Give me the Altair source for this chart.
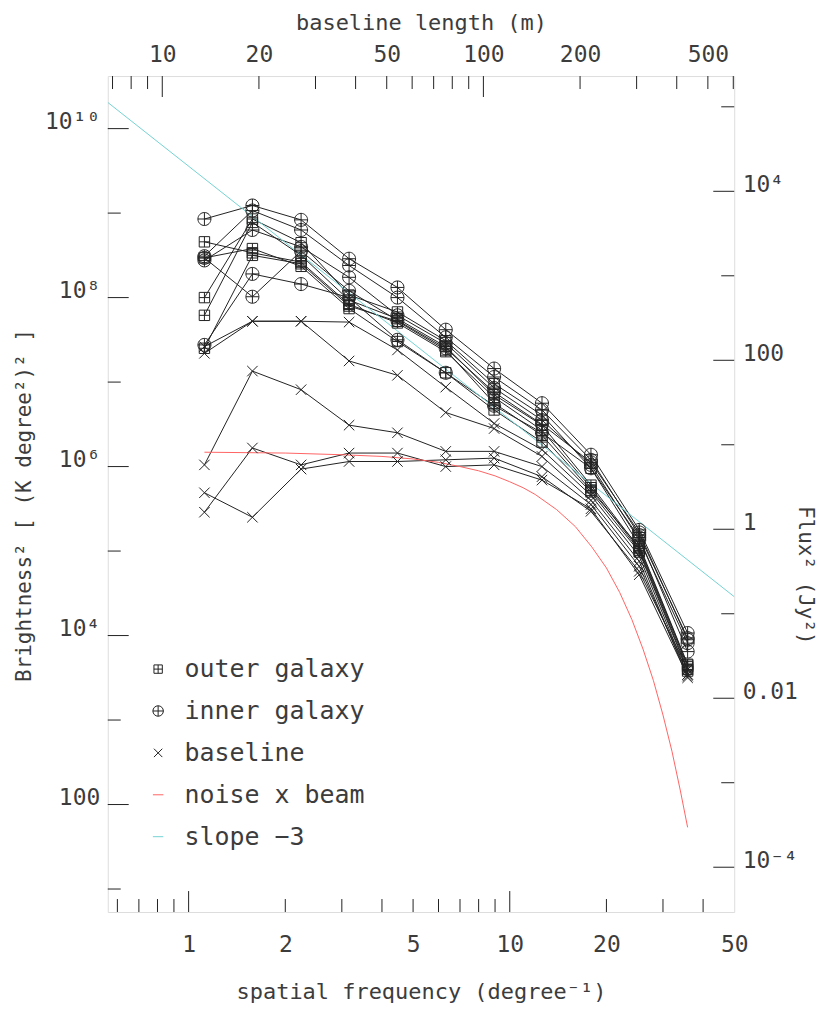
import altair as alt
import pandas as pd

FONT = "DejaVu Sans Mono"
INK = "#222222"
TXT = "#3c3c3c"
W, H = 628, 838

# spatial frequency of the measured points (degree^-1)
freq = [1.12, 1.58, 2.24, 3.16, 4.47, 6.32, 8.94, 12.6, 17.9, 25.3, 35.8]

# log10 of Brightness^2
inner_1 = [8.93, 9.09, 8.92, 8.46, 8.12, 7.62, 7.16, 6.75, 6.14, 5.25, 4.03]
inner_2 = [8.49, 9.03, 8.80, 8.38, 8.00, 7.53, 7.06, 6.67, 6.08, 5.19, 3.97]
inner_3 = [8.44, 8.80, 8.60, 8.24, 7.79, 7.46, 6.93, 6.55, 6.02, 5.13, 3.91]
inner_4 = [7.44, 8.28, 8.16, 8.00, 7.50, 7.11, 6.72, 6.40, 5.98, 5.16, 3.81]
inner_5 = [8.47, 8.01, 8.55, 8.08, 7.73, 7.40, 6.88, 6.50, 6.05, 5.22, 3.95]

outer_1 = [8.66, 8.53, 8.42, 7.92, 7.70, 7.36, 6.82, 6.43, 5.75, 5.01, 3.60]
outer_2 = [8.00, 8.93, 8.65, 8.03, 7.83, 7.49, 6.98, 6.61, 5.98, 5.07, 3.66]
outer_3 = [7.79, 8.89, 8.50, 7.97, 7.75, 7.42, 6.85, 6.49, 5.78, 5.03, 3.63]
outer_4 = [8.47, 8.58, 8.37, 7.87, 7.48, 7.11, 6.67, 6.29, 5.70, 4.99, 3.58]
outer_5 = [7.40, 8.50, 8.40, 7.90, 7.72, 7.38, 6.75, 6.37, 5.72, 5.05, 3.65]

base_1 = [7.34, 7.72, 7.72, 7.71, 7.38, 6.94, 6.51, 6.20, 5.66, 4.94, 3.54]
base_2 = [7.42, 7.72, 7.72, 7.25, 7.08, 6.64, 6.45, 6.12, 5.60, 4.88, 3.50]
base_3 = [6.02, 7.13, 6.91, 6.49, 6.40, 6.18, 6.18, 6.00, 5.55, 4.82, 3.54]
base_4 = [5.69, 5.40, 5.97, 6.06, 6.06, 6.08, 6.10, 5.88, 5.47, 4.76, 3.60]
base_5 = [5.46, 6.22, 6.02, 6.16, 6.16, 6.00, 6.02, 5.84, 5.50, 4.72, 3.52]

# noise x beam curve
noise_freq = [1.12, 2.0, 3.0, 4.0, 5.0, 6.0, 7.0, 8.0, 9.0, 10.0, 11.0, 12.0,
              14.0, 16.0, 18.0, 20.0, 22.0, 24.0, 26.0, 28.0, 30.0, 32.0, 34.0, 35.8]
noise_logB = [6.17, 6.16, 6.14, 6.12, 6.09, 6.05, 6.00, 5.95, 5.89, 5.82, 5.75, 5.67,
              5.49, 5.29, 5.05, 4.80, 4.51, 4.19, 3.84, 3.47, 3.06, 2.63, 2.16, 1.73]

# slope -3 reference line (end points at the frame)
slope_freq = [0.56, 50.0]
slope_logB = [10.31, 4.46]

kinds = ["outer galaxy", "inner galaxy", "baseline", "noise x beam", "slope \u22123"]
kind_colors = [INK, INK, INK, "#ff6464", "#74d2d2"]
SQ_PLUS = "M-0.8,-0.8H0.8V0.8H-0.8Z M-0.8,0H0.8 M0,-0.8V0.8"
CI_PLUS = "M-1,0A1,1,0,1,1,1,0A1,1,0,1,1,-1,0Z M-1,0H1 M0,-1V1"
CROSS = "M-0.8,-0.8L0.8,0.8 M-0.8,0.8L0.8,-0.8"
kind_shapes = [SQ_PLUS, CI_PLUS, CROSS, "stroke", "stroke"]

# axis ticks / labels
freq_labels = [1, 2, 5, 10, 20, 50]
freq_major = [1, 10]
freq_minor = [0.6, 0.7, 0.8, 0.9, 2, 3, 4, 5, 6, 7, 8, 9, 20, 30, 40]
bright_major = [1e2, 1e4, 1e6, 1e8, 1e10]
bright_minor = [1e1, 1e3, 1e5, 1e7, 1e9]
base_labels = [10, 20, 50, 100, 200, 500]
base_major = [10, 100]
base_minor = [7, 8, 9, 20, 30, 40, 50, 60, 70, 80, 90, 200, 300, 400, 500, 600]
flux_major = [1e-4, 1e-2, 1, 1e2, 1e4]
flux_minor = [1e-3, 1e-1, 10, 1e3, 1e5]

rows = []
for name, kind, vals in [
    ("o1", kinds[0], outer_1), ("o2", kinds[0], outer_2), ("o3", kinds[0], outer_3),
    ("o4", kinds[0], outer_4), ("o5", kinds[0], outer_5),
    ("i1", kinds[1], inner_1), ("i2", kinds[1], inner_2), ("i3", kinds[1], inner_3),
    ("i4", kinds[1], inner_4), ("i5", kinds[1], inner_5),
    ("b1", kinds[2], base_1), ("b2", kinds[2], base_2), ("b3", kinds[2], base_3),
    ("b4", kinds[2], base_4), ("b5", kinds[2], base_5),
]:
    for f, v in zip(freq, vals):
        rows.append({"series": name, "kind": kind, "f": f, "B": 10 ** v, "marker": 1})
for f, v in zip(noise_freq, noise_logB):
    rows.append({"series": "noise", "kind": kinds[3], "f": f, "B": 10 ** v, "marker": 0})
for f, v in zip(slope_freq, slope_logB):
    rows.append({"series": "slope", "kind": kinds[4], "f": f, "B": 10 ** v, "marker": 0})
df = pd.DataFrame(rows)

xscale = alt.Scale(type="log", domain=[0.56, 50], nice=False)
yscale = alt.Scale(type="log", domain=[10 ** 0.728, 10 ** 10.622], nice=False)
lscale = alt.Scale(type="log", domain=[0.56 * 12.08, 50 * 12.08], nice=False)
fscale = alt.Scale(type="log", domain=[10 ** -4.53, 10 ** 5.364], nice=False)

common = dict(ticks=False, tickSize=0, domain=False, grid=False,
              labelFont=FONT, labelFontSize=23, labelColor=TXT, labelOverlap=False,
              labelFlush=False, titleFont=FONT, titleFontWeight="normal", titleColor=TXT)

bottom_axis = alt.Axis(orient="bottom", values=freq_labels, format="~g", labelPadding=22,
                       title="spatial frequency (degree\u207b\u00b9)", titleFontSize=22,
                       titleY=80, titleBaseline="middle", **common)
left_axis = alt.Axis(orient="left", values=bright_major,
                     labelExpr="['1','10','100','10\u00b3','10\u2074','10\u2075','10\u2076','10\u2077','10\u2078','10\u2079','10\u00b9\u2070'][round(log(datum.value)/LN10)]",
                     labelBaseline="alphabetic", labelPadding=8,
                     title="Brightness\u00b2 [ (K degree\u00b2)\u00b2 ]", titleFontSize=21,
                     titleX=-83, titleY=430, titleAngle=270, titleBaseline="middle",
                     **common)
top_axis = alt.Axis(orient="top", values=base_labels, format="~g", labelPadding=10,
                    title="baseline length (m)", titleFontSize=22, titleY=-54,
                    titleBaseline="middle", **common)
right_axis = alt.Axis(orient="right", values=flux_major,
                      labelExpr="['10\u207b\u2074','','0.01','','1','','100','','10\u2074'][round(log(datum.value)/LN10)+4]",
                      labelBaseline="alphabetic", labelAlign="left", labelPadding=8,
                      title="Flux\u00b2 (Jy\u00b2)", titleFontSize=21, titleAngle=90,
                      titleX=70, titleY=500, titleBaseline="middle", **common)

legend = alt.Legend(title=None, orient="none", legendX=38, legendY=582, padding=0,
                    labelFont=FONT, labelFontSize=25, labelColor=TXT, labelLimit=0,
                    symbolSize=110, symbolStrokeWidth=1, rowPadding=16, labelOffset=14)
color = alt.Color("kind:N", scale=alt.Scale(domain=kinds, range=kind_colors), legend=legend)
shape = alt.Shape("kind:N", scale=alt.Scale(domain=kinds, range=kind_shapes), legend=legend)

lines = alt.Chart(df).mark_line(strokeWidth=1, clip=True).encode(
    x=alt.X("f:Q", scale=xscale, axis=bottom_axis),
    y=alt.Y("B:Q", scale=yscale, axis=left_axis),
    color=color,
    detail="series:N",
)
points = alt.Chart(df).transform_filter("datum.marker == 1").mark_point(
    filled=False, size=170, strokeWidth=1, opacity=1).encode(
    x=alt.X("f:Q", scale=xscale), y=alt.Y("B:Q", scale=yscale), color=color, shape=shape)


def rules_x(vals, field, scale, length, top=False):
    d = pd.DataFrame({field: vals})
    y0 = 0 if top else H
    y1 = length if top else H - length
    return alt.Chart(d).mark_rule(color=INK, strokeWidth=1).encode(
        x=alt.X(f"{field}:Q", scale=scale), y=alt.value(y0), y2=alt.value(y1))


def rules_y(vals, field, scale, length, right=False, axis=None):
    d = pd.DataFrame({field: vals})
    x0 = W if right else 0
    x1 = W - length if right else length
    enc_y = alt.Y(f"{field}:Q", scale=scale, axis=axis) if axis is not None else alt.Y(f"{field}:Q", scale=scale)
    return alt.Chart(d).mark_rule(color=INK, strokeWidth=1).encode(
        y=enc_y, x=alt.value(x0), x2=alt.value(x1))


main = alt.layer(
    lines, points,
    rules_x(freq_major, "f", xscale, 21), rules_x(freq_minor, "f", xscale, 13),
    rules_y(bright_major, "B", yscale, 21), rules_y(bright_minor, "B", yscale, 13),
)

top_major = alt.Chart(pd.DataFrame({"L": base_major})).mark_rule(color=INK, strokeWidth=1).encode(
    x=alt.X("L:Q", scale=lscale, axis=top_axis), y=alt.value(0), y2=alt.value(21))
top_minor = rules_x(base_minor, "L", lscale, 13, top=True)
top = alt.layer(top_major, top_minor)

right = alt.layer(
    rules_y(flux_major, "F", fscale, 21, right=True, axis=right_axis),
    rules_y(flux_minor, "F", fscale, 13, right=True),
)

chart = alt.layer(main, top, right).resolve_scale(
    x="independent", y="independent"
).properties(
    width=W, height=H,
    padding={"left": 100, "top": 67, "right": 88, "bottom": 92},
    autosize=alt.AutoSizeParams(type="none"),
).configure_view(stroke=INK, strokeWidth=1).configure(background="white")

chart.save("out.html", embed_options={"renderer": "svg", "actions": False})
